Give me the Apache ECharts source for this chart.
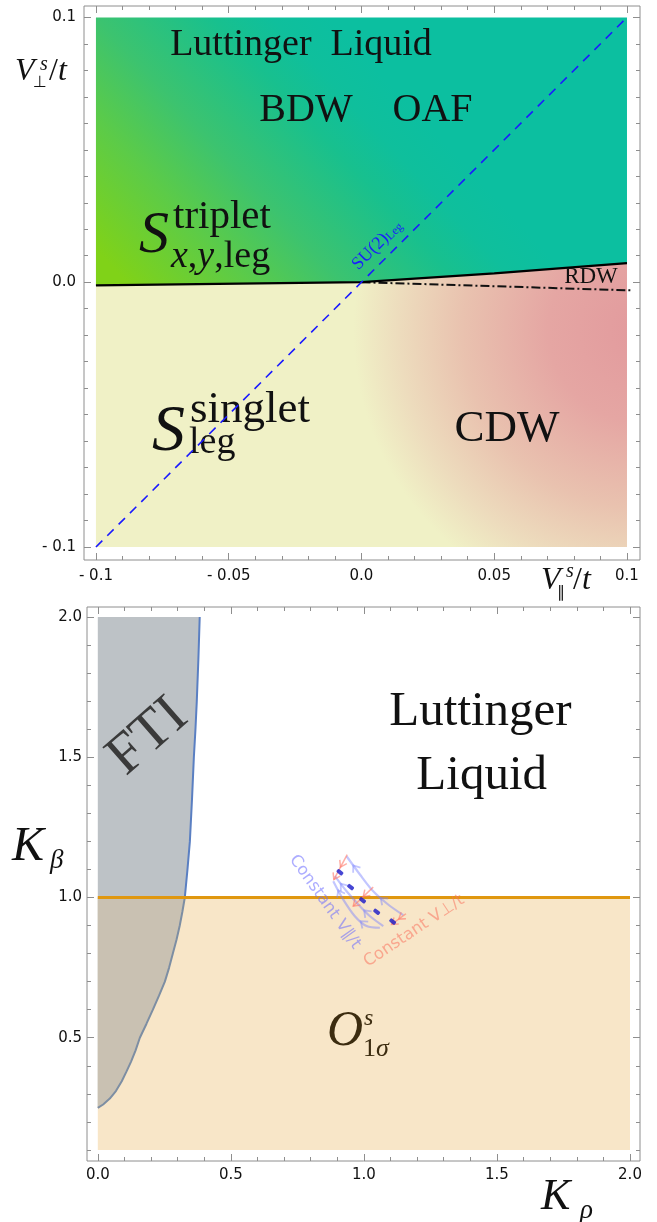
<!DOCTYPE html>
<html><head><meta charset="utf-8">
<script src="https://cdn.jsdelivr.net/npm/echarts@6/dist/echarts.min.js"></script>
<style>html,body{margin:0;padding:0;background:#fff}#c{width:657px;height:1222px}</style>
</head><body><div id="c"></div>
<script>
// ================= DATA: top panel (V_par^s/t , V_perp^s/t) =================
const topXRange = [-0.1045, 0.1049];
const topYRange = [-0.1049, 0.1043];
const topXTicksMajor = [-0.1, -0.05, 0, 0.05, 0.1];
const topXTickLabels = ['- 0.1', '- 0.05', '0.0', '0.05', '0.1'];
const topXTicksMinor = [-0.09,-0.08,-0.07,-0.06,-0.04,-0.03,-0.02,-0.01,0.01,0.02,0.03,0.04,0.06,0.07,0.08,0.09];
const topYTicksMajor = [-0.1, 0, 0.1];
const topYTickLabels = ['- 0.1', '0.0', '0.1'];
const topYTicksMinor = [-0.09,-0.08,-0.07,-0.06,-0.05,-0.04,-0.03,-0.02,-0.01,0.01,0.02,0.03,0.04,0.05,0.06,0.07,0.08,0.09];
// phase boundary between the upper (LL / triplet) and lower (singlet / CDW) phases
const phaseBoundaryX = [-0.1, 0, 0.05, 0.1];
const phaseBoundaryY = [-0.0012, 0, 0.0033, 0.0072];
// region corners
const upperRegionX = [-0.1, 0.1, 0.1, 0.05, 0, -0.1];
const upperRegionY = [0.1, 0.1, 0.0072, 0.0033, 0, -0.0012];
const lowerRegionX = [-0.1, 0, 0.05, 0.1, 0.1, -0.1];
const lowerRegionY = [-0.0012, 0, 0.0033, 0.0072, -0.1, -0.1];
// RDW dash-dot line
const rdwLineX = [0, 0.102];
const rdwLineY = [0, -0.0031];
// SU(2)_Leg symmetric line
const su2LineX = [-0.1, 0.1];
const su2LineY = [-0.1, 0.1];

// ================= DATA: bottom panel (K_rho , K_beta) =================
const botXRange = [-0.0406, 2.0376];
const botYRange = [0.0605, 2.0356];
const botXTicksMajor = [0, 0.5, 1, 1.5, 2];
const botXTickLabels = ['0.0', '0.5', '1.0', '1.5', '2.0'];
const botXTicksMinor = [0.1,0.2,0.3,0.4,0.6,0.7,0.8,0.9,1.1,1.2,1.3,1.4,1.6,1.7,1.8,1.9];
const botYTicksMajor = [0.5, 1, 1.5, 2];
const botYTickLabels = ['0.5', '1.0', '1.5', '2.0'];
const botYTicksMinor = [0.1,0.2,0.3,0.4,0.6,0.7,0.8,0.9,1.1,1.2,1.3,1.4,1.6,1.7,1.8,1.9];
// FTI boundary curve
const ftiKrho  = [0, 0.02, 0.045, 0.068, 0.09, 0.108, 0.125, 0.142, 0.158, 0.183, 0.207, 0.23, 0.252, 0.268, 0.282, 0.296, 0.308, 0.318, 0.327, 0.337, 0.346, 0.354, 0.361, 0.367, 0.372, 0.378, 0.383];
const ftiKbeta = [0.25, 0.262, 0.283, 0.31, 0.345, 0.38, 0.415, 0.455, 0.5, 0.55, 0.6, 0.65, 0.7, 0.75, 0.8, 0.85, 0.9, 0.95, 1.0, 1.1, 1.2, 1.35, 1.5, 1.6, 1.7, 1.85, 2.0];
// O_1sigma region (below K_beta = 1)
const o1sKrho  = [0, 2.0, 2.0, 0];
const o1sKbeta = [0.1, 0.1, 1.0, 1.0];
// K_beta = 1 critical line
const critKrho  = [0, 2.0];
const critKbeta = [1.0, 1.0];
// RG flow: fixed points
const flowPtKrho  = [0.910, 0.950, 0.995, 1.048, 1.108];
const flowPtKbeta = [1.090, 1.037, 0.990, 0.949, 0.914];
// constant V_par/t flow curves (blue)
const vparCurvesKrho  = [[0.935,0.985,1.035,1.091,1.148],[0.891,0.935,0.979,1.023,1.073],[0.885,0.922,0.966,1.010,1.060]];
const vparCurvesKbeta = [[1.147,1.082,1.022,0.975,0.937],[1.076,1.022,0.975,0.933,0.898],[1.058,0.993,0.933,0.898,0.892]];
// constant V_perp/t flow segments (red)
const vperpSegKrho  = [[0.937,0.887],[1.035,0.960],[1.158,1.104]];
const vperpSegKbeta = [[1.153,1.064],[1.037,0.969],[0.942,0.904]];

// ================= STYLE =================
const FRAME = '#8e8e8e';
const SERIF = '"Liberation Serif", "Times New Roman", serif';
const SANS = '"DejaVu Sans", sans-serif';
const zip = (a, b) => a.map((v, i) => [v, b[i]]);

function labelLookup(vals, labs) {
  return v => { for (let i = 0; i < vals.length; i++) if (Math.abs(vals[i] - v) < 1e-9) return labs[i]; return ''; };
}
function makeAxes(kind, gridIndex, range, major, labels, minor, margin) {
  const posA = kind === 'x' ? 'bottom' : 'left';
  const posB = kind === 'x' ? 'top' : 'right';
  const mk = (pos, ticks, len, withLabels) => ({
    type: 'value', gridIndex, position: pos, min: range[0], max: range[1], silent: true,
    splitLine: { show: false },
    axisLine: { show: false, onZero: false },
    axisTick: { show: true, inside: true, length: len, customValues: ticks, lineStyle: { color: FRAME, width: 1 } },
    axisLabel: withLabels ? {
      show: true, customValues: major, margin, formatter: labelLookup(major, labels),
      fontFamily: SANS, fontSize: 15, color: '#111'
    } : { show: false }
  });
  return [mk(posA, major, 7, true), mk(posA, minor, 4, false), mk(posB, major, 7, false), mk(posB, minor, 4, false)];
}

function polygonSeries(ax, xs, ys, fillFn, z) {
  return {
    type: 'custom', coordinateSystem: 'cartesian2d', xAxisIndex: ax, yAxisIndex: ax, silent: true, z, clip: false,
    data: [[xs[0], ys[0]]],
    renderItem: (params, api) => ({
      type: 'polygon',
      shape: { points: xs.map((x, i) => api.coord([x, ys[i]])) },
      style: { fill: fillFn(api), stroke: null }
    })
  };
}
function lineSeries(ax, xs, ys, style, z) {
  return { type: 'line', xAxisIndex: ax, yAxisIndex: ax, data: zip(xs, ys), symbol: 'none', silent: true, z,
    lineStyle: style, clip: false };
}

// gradient anchors (in data units of the top panel)
const upperGradFrom = [-0.1, 0.0122], upperGradTo = [-0.0092, 0.0968];
const lowerGradCenter = [0.1049, -0.018], lowerGradRadius = 0.108;

const upperFill = api => {
  const a = api.coord(upperGradFrom), b = api.coord(upperGradTo);
  return { type: 'linear', x: a[0], y: a[1], x2: b[0], y2: b[1], global: true, colorStops: [
    { offset: 0, color: '#80d218' }, { offset: 0.27, color: '#5ccb48' }, { offset: 0.48, color: '#3cc36f' },
    { offset: 0.74, color: '#18c08e' }, { offset: 0.87, color: '#0fbf9c' }, { offset: 1, color: '#0cbfa0' } ] };
};
const lowerFill = api => {
  const c = api.coord(lowerGradCenter), r = api.size([lowerGradRadius, 0])[0];
  return { type: 'radial', x: c[0], y: c[1], r, global: true, colorStops: [
    { offset: 0, color: '#e29a9d' }, { offset: 0.32, color: '#e5a6a3' }, { offset: 0.62, color: '#e9c2af' },
    { offset: 0.84, color: '#eddcbd' }, { offset: 1, color: '#f0f1c6' } ] };
};

// RG flow drawing (arrows) for bottom panel
function chevron(tip, u, len, half) {
  const n = [-u[1], u[0]];
  return [[tip[0] - len * u[0] + half * n[0], tip[1] - len * u[1] + half * n[1]], tip,
          [tip[0] - len * u[0] - half * n[0], tip[1] - len * u[1] - half * n[1]]];
}
function unit(a, b) { const dx = b[0] - a[0], dy = b[1] - a[1], l = Math.hypot(dx, dy) || 1; return [dx / l, dy / l]; }

const flowSeries = {
  type: 'custom', coordinateSystem: 'cartesian2d', xAxisIndex: 4, yAxisIndex: 4, silent: true, z: 8, clip: false,
  data: [[flowPtKrho[0], flowPtKbeta[0]]],
  renderItem: (params, api) => {
    const children = [];
    const blue = 'rgba(120,128,255,0.45)', red = 'rgba(255,120,105,0.6)';
    vparCurvesKrho.forEach((xs, ci) => {
      const P = xs.map((x, i) => api.coord([x, vparCurvesKbeta[ci][i]]));
      children.push({ type: 'polyline', shape: { points: P, smooth: 0.3 }, style: { stroke: blue, lineWidth: 2.2, fill: null } });
      [1, 3].forEach(k => {
        const tip = [(P[k][0] + P[k - 1][0]) / 2, (P[k][1] + P[k - 1][1]) / 2];
        children.push({ type: 'polyline', shape: { points: chevron(tip, unit(P[k], P[k - 1]), 6, 4.5) },
          style: { stroke: blue, lineWidth: 1.8, fill: null } });
      });
    });
    vperpSegKrho.forEach((xs, si) => {
      const a = api.coord([xs[0], vperpSegKbeta[si][0]]), b = api.coord([xs[1], vperpSegKbeta[si][1]]);
      children.push({ type: 'polyline', shape: { points: [a, b] }, style: { stroke: red, lineWidth: 1.5, fill: null } });
      const u = unit(a, b);
      children.push({ type: 'polyline', shape: { points: chevron(b, u, 6, 4) }, style: { stroke: red, lineWidth: 1.5, fill: null } });
      const m = [(a[0] + b[0]) / 2, (a[1] + b[1]) / 2];
      children.push({ type: 'polyline', shape: { points: chevron(m, u, 6, 4) }, style: { stroke: red, lineWidth: 1.5, fill: null } });
    });
    return { type: 'group', children };
  }
};

// ================= TEXT =================
function T(x, y, text, size, o) {
  o = o || {};
  const style = {
    text, fontSize: size, fontFamily: o.family || SERIF, fontStyle: o.italic ? 'italic' : 'normal',
    fill: o.fill || '#111', align: o.align || 'left', verticalAlign: 'middle',
    textAlign: o.align || 'left', textVerticalAlign: 'middle'
  };
  if (o.rich) style.rich = o.rich;
  return { type: 'text', x, y, z: 50, silent: true, rotation: o.rot || 0, style };
}
const it = (size, fill) => ({ fontStyle: 'italic', fontSize: size, fontFamily: SERIF, fill: fill || '#111' });
const up = (size, fill) => ({ fontStyle: 'normal', fontSize: size, fontFamily: SERIF, fill: fill || '#111' });

const texts = [
  // top panel
  T(301, 45, 'Luttinger  Liquid', 38, { align: 'center' }),
  T(306, 110.5, 'BDW', 40, { align: 'center' }),
  T(432.5, 110.5, 'OAF', 40, { align: 'center' }),
  T(139, 236, 'S', 60, { italic: true }),
  T(173, 217, 'triplet', 41),
  T(171, 257, '{i|x}{u|,}{i|y}{u|,leg}', 38, { rich: { i: it(38), u: up(38) } }),
  T(152, 433, 'S', 66, { italic: true }),
  T(190, 410, 'singlet', 45),
  T(189, 443, 'leg', 38),
  T(507, 429, 'CDW', 45, { align: 'center' }),
  T(591, 277, 'RDW', 23, { align: 'center' }),
  T(377, 245, '{a|SU(2)}{b|Leg}', 18, { align: 'center', rot: Math.PI / 4, fill: '#1a1aff',
    rich: { a: up(18, '#1a1aff'), b: Object.assign(up(12, '#1a1aff'), { verticalAlign: 'bottom', padding: [6, 0, 0, 0] }) } }),
  // top axis titles
  T(15, 71.5, 'V', 32, { italic: true }),
  T(40, 65, 's', 20, { italic: true }),
  T(33, 83, '⊥', 16, { family: SANS }),
  T(49, 71.5, '{u|/}{i|t}', 32, { rich: { i: it(32), u: up(32) } }),
  T(541, 581, 'V', 32, { italic: true }),
  T(566, 572, 's', 20, { italic: true }),
  T(557, 592.5, '∥', 16, { family: SANS }),
  T(573, 581, '{u|/}{i|t}', 32, { rich: { i: it(32), u: up(32) } }),
  // bottom panel
  T(480.5, 712, 'Luttinger', 49, { align: 'center' }),
  T(481.7, 776.5, 'Liquid', 49, { align: 'center' }),
  T(148, 737, 'FTI', 57, { align: 'center', rot: 0.72, fill: '#3a3a3a' }),
  T(327, 1032, 'O', 50, { italic: true, fill: '#3c2c10' }),
  T(364, 1019, 's', 24, { italic: true, fill: '#3c2c10' }),
  T(363, 1049, '{u|1}{i|σ}', 26, { rich: { u: up(26, '#3c2c10'), i: it(26, '#3c2c10') } }),
  T(325, 902, 'Constant V∥/t', 16.5, { align: 'center', rot: -0.951, family: SANS, fill: 'rgba(105,105,255,0.55)' }),
  T(414, 931, 'Constant V⊥/t', 16.5, { align: 'center', rot: 0.588, family: SANS, fill: 'rgba(250,115,95,0.55)' }),
  // bottom axis titles
  T(12, 847.4, 'K', 48, { italic: true }),
  T(50, 861, 'β', 27, { italic: true }),
  T(541, 1197.7, 'K', 44, { italic: true }),
  T(580, 1211, 'ρ', 27, { italic: true })
];

// ================= CHART =================
const chart = echarts.init(document.getElementById('c'), null, { renderer: 'canvas', width: 657, height: 1222 });
chart.setOption({
  animation: false,
  backgroundColor: '#ffffff',
  grid: [
    { left: 84, top: 6, width: 556, height: 554, show: true, borderColor: FRAME, borderWidth: 1, backgroundColor: 'transparent' },
    { left: 87, top: 607, width: 553, height: 554, show: true, borderColor: FRAME, borderWidth: 1, backgroundColor: 'transparent' }
  ],
  xAxis: [
    ...makeAxes('x', 0, topXRange, topXTicksMajor, topXTickLabels, topXTicksMinor, 9),
    ...makeAxes('x', 1, botXRange, botXTicksMajor, botXTickLabels, botXTicksMinor, 7)
  ],
  yAxis: [
    ...makeAxes('y', 0, topYRange, topYTicksMajor, topYTickLabels, topYTicksMinor, 8),
    ...makeAxes('y', 1, botYRange, botYTicksMajor, botYTickLabels, botYTicksMinor, 5)
  ],
  series: [
    // top panel
    polygonSeries(0, upperRegionX, upperRegionY, upperFill, 1),
    polygonSeries(0, lowerRegionX, lowerRegionY, lowerFill, 1),
    lineSeries(0, rdwLineX, rdwLineY, { color: '#111', width: 2, type: [9, 3, 2, 3] }, 5),
    lineSeries(0, phaseBoundaryX, phaseBoundaryY, { color: '#000', width: 2.2 }, 6),
    lineSeries(0, su2LineX, su2LineY, { color: '#1a1aff', width: 1.6, type: [9, 7] }, 60),
    // bottom panel
    polygonSeries(4, o1sKrho, o1sKbeta, () => '#f8e6c8', 1),
    polygonSeries(4, ftiKrho.concat([0]), ftiKbeta.concat([2.0]), () => '#bdc2c6', 2),
    polygonSeries(4, ftiKrho.filter((x, i) => ftiKbeta[i] <= 1).concat([0]),
                     ftiKbeta.filter(y => y <= 1).concat([1.0]), () => '#c9c1b2', 3),
    lineSeries(4, ftiKrho.filter((x, i) => ftiKbeta[i] >= 1), ftiKbeta.filter(y => y >= 1), { color: '#5a7fc2', width: 2 }, 4),
    lineSeries(4, ftiKrho.filter((x, i) => ftiKbeta[i] <= 1), ftiKbeta.filter(y => y <= 1), { color: '#7d8ea3', width: 2 }, 4),
    lineSeries(4, critKrho, critKbeta, { color: '#e0970f', width: 3 }, 5),
    flowSeries,
    { type: 'scatter', xAxisIndex: 4, yAxisIndex: 4, data: zip(flowPtKrho, flowPtKbeta), silent: true, z: 9,
      symbol: 'roundRect', symbolSize: [7, 4], symbolRotate: -38, itemStyle: { color: '#1818c8' } }
  ],
  graphic: { elements: texts }
});
</script>
</body></html>
